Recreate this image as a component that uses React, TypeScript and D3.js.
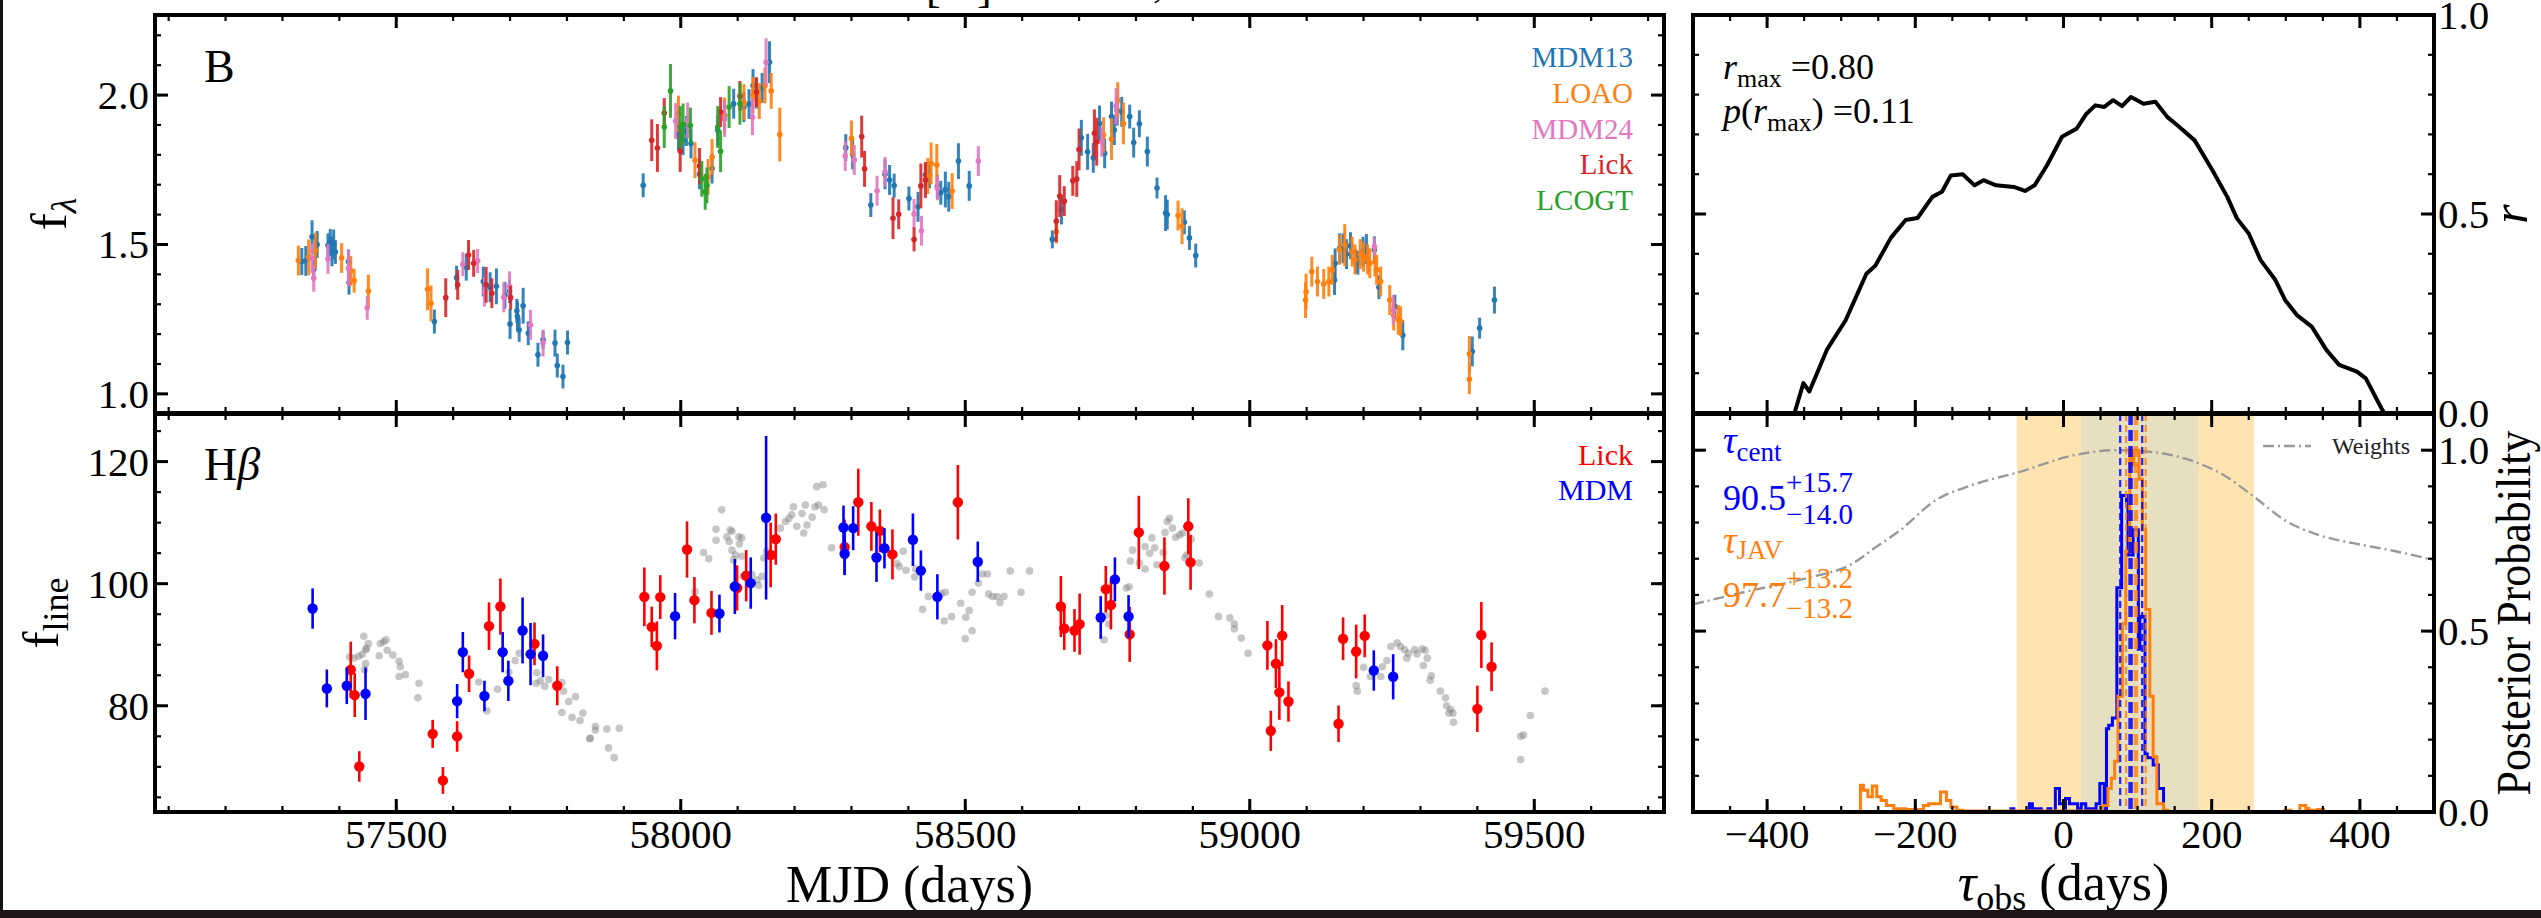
import React from "react";
import * as d3 from "d3";

const W = 2541;
const H = 918;
const FONT = "\"Liberation Serif\", \"DejaVu Serif\", \"Noto Serif\", serif";

// ---- B-band continuum light curves: [MJD, flux, error] ----
const mdm13 = [
  [57334, 1.443, 0.045], [57341, 1.445, 0.05], [57352, 1.526, 0.055], [57355, 1.417, 0.04], [57358, 1.476, 0.05],
  [57361, 1.5, 0.045], [57380, 1.497, 0.04], [57384, 1.507, 0.045], [57387, 1.477, 0.05], [57390, 1.5, 0.05],
  [57393, 1.475, 0.04], [57416, 1.443, 0.04], [57417, 1.372, 0.04],
  [57567, 1.242, 0.04], [57606, 1.389, 0.04], [57623, 1.424, 0.045], [57653, 1.376, 0.05], [57665, 1.357, 0.05],
  [57676, 1.36, 0.06], [57691, 1.33, 0.045], [57699, 1.344, 0.04], [57700, 1.234, 0.05], [57712, 1.278, 0.04],
  [57713, 1.259, 0.05], [57716, 1.214, 0.04], [57723, 1.295, 0.06], [57732, 1.203, 0.04], [57749, 1.131, 0.04],
  [57758, 1.181, 0.03], [57779, 1.17, 0.045], [57783, 1.095, 0.04], [57793, 1.058, 0.04], [57801, 1.172, 0.04],
  [57934, 1.698, 0.04], [57996, 1.866, 0.05], [58004, 1.849, 0.05], [58010, 1.88, 0.05], [58018, 1.838, 0.05],
  [58033, 1.735, 0.05], [58055, 1.754, 0.05], [58065, 1.882, 0.05], [58077, 1.932, 0.05], [58093, 1.971, 0.05],
  [58111, 1.96, 0.05], [58120, 1.97, 0.05], [58127, 2.032, 0.055], [58133, 2.005, 0.05], [58143, 2.024, 0.05],
  [58156, 2.11, 0.07],
  [58290, 1.824, 0.045], [58302, 1.801, 0.05], [58334, 1.632, 0.04], [58359, 1.735, 0.05], [58367, 1.716, 0.05],
  [58375, 1.697, 0.04], [58401, 1.654, 0.04], [58417, 1.626, 0.05], [58430, 1.733, 0.04], [58437, 1.733, 0.045],
  [58451, 1.693, 0.04], [58457, 1.673, 0.04], [58465, 1.684, 0.06], [58471, 1.66, 0.05], [58488, 1.779, 0.06],
  [58507, 1.696, 0.05],
  [58653, 1.517, 0.03], [58669, 1.617, 0.05], [58704, 1.857, 0.06], [58715, 1.81, 0.06], [58725, 1.79, 0.05],
  [58736, 1.905, 0.06], [58745, 1.805, 0.05], [58757, 1.928, 0.05], [58762, 1.883, 0.05], [58767, 1.948, 0.05],
  [58775, 1.944, 0.05], [58789, 1.928, 0.04], [58796, 1.841, 0.05], [58806, 1.904, 0.045], [58820, 1.811, 0.05],
  [58837, 1.689, 0.035], [58852, 1.605, 0.06], [58855, 1.6, 0.05], [58885, 1.574, 0.04], [58894, 1.522, 0.04],
  [58905, 1.463, 0.04],
  [59149, 1.381, 0.05], [59150, 1.437, 0.05], [59158, 1.487, 0.05], [59164, 1.487, 0.05], [59170, 1.468, 0.05],
  [59177, 1.496, 0.045], [59186, 1.443, 0.04], [59190, 1.439, 0.04], [59199, 1.476, 0.05], [59205, 1.485, 0.05],
  [59219, 1.482, 0.045], [59227, 1.357, 0.04], [59255, 1.292, 0.04], [59269, 1.196, 0.05],
  [59391, 1.142, 0.05], [59404, 1.22, 0.035], [59430, 1.314, 0.045],
];
const loao = [
  [57328, 1.446, 0.05], [57346, 1.457, 0.06], [57358, 1.479, 0.06], [57404, 1.455, 0.05], [57420, 1.412, 0.05],
  [57426, 1.379, 0.04], [57451, 1.344, 0.055], [57555, 1.35, 0.07], [57561, 1.303, 0.06],
  [57996, 1.938, 0.06], [58025, 1.782, 0.06], [58048, 1.726, 0.06], [58055, 1.793, 0.06], [58077, 1.932, 0.06],
  [58111, 1.976, 0.06], [58127, 2.0, 0.06], [58138, 1.98, 0.06], [58148, 2.032, 0.06], [58159, 2.014, 0.06],
  [58174, 1.868, 0.09],
  [58300, 1.855, 0.06], [58434, 1.729, 0.06], [58440, 1.771, 0.07], [58450, 1.766, 0.07], [58477, 1.679, 0.06],
  [58660, 1.543, 0.04], [58743, 1.866, 0.06], [58757, 1.853, 0.07], [58768, 1.983, 0.06], [58778, 1.905, 0.07],
  [58874, 1.597, 0.05], [58881, 1.561, 0.06],
  [59098, 1.314, 0.06], [59099, 1.342, 0.06], [59109, 1.409, 0.05], [59119, 1.376, 0.05], [59130, 1.368, 0.05],
  [59139, 1.376, 0.05], [59145, 1.415, 0.05], [59158, 1.482, 0.05], [59167, 1.498, 0.07], [59180, 1.476, 0.05],
  [59185, 1.45, 0.05], [59194, 1.468, 0.05], [59200, 1.459, 0.05], [59207, 1.45, 0.05], [59211, 1.437, 0.05],
  [59220, 1.443, 0.05], [59223, 1.415, 0.05], [59230, 1.376, 0.05], [59246, 1.314, 0.05], [59253, 1.262, 0.05],
  [59261, 1.248, 0.05], [59265, 1.243, 0.05],
  [59386, 1.049, 0.05], [59386, 1.134, 0.06],
];
const mdm24 = [
  [57352, 1.454, 0.05], [57355, 1.387, 0.045], [57380, 1.452, 0.05], [57416, 1.42, 0.06], [57449, 1.288, 0.04],
  [57617, 1.434, 0.04], [57643, 1.445, 0.04], [57655, 1.342, 0.05], [57689, 1.323, 0.05], [57699, 1.36, 0.05],
  [57736, 1.231, 0.05], [57758, 1.17, 0.045],
  [57991, 1.913, 0.06], [58012, 1.915, 0.06], [58077, 1.92, 0.06], [58126, 1.926, 0.06], [58150, 2.11, 0.08],
  [58289, 1.796, 0.05], [58305, 1.783, 0.05], [58345, 1.68, 0.05], [58359, 1.743, 0.05], [58410, 1.602, 0.05],
  [58423, 1.546, 0.05], [58451, 1.688, 0.04], [58523, 1.779, 0.05],
  [58740, 1.844, 0.05], [58765, 1.963, 0.06], [59219, 1.493, 0.03], [59252, 1.281, 0.05],
];
const lickB = [
  [57587, 1.322, 0.065], [57608, 1.365, 0.05], [57627, 1.465, 0.05], [57636, 1.437, 0.045], [57658, 1.365, 0.06],
  [57668, 1.337, 0.05], [57701, 1.322, 0.04],
  [57949, 1.849, 0.07], [57959, 1.823, 0.08], [57971, 1.94, 0.05], [57999, 1.813, 0.07], [58033, 1.763, 0.06],
  [58070, 1.943, 0.05], [58104, 1.997, 0.05], [58133, 2.01, 0.05],
  [58318, 1.861, 0.07], [58323, 1.753, 0.06], [58373, 1.588, 0.07], [58383, 1.601, 0.05], [58410, 1.517, 0.04],
  [58422, 1.696, 0.075], [58430, 1.716, 0.06],
  [58660, 1.578, 0.07], [58666, 1.662, 0.07], [58674, 1.645, 0.05], [58689, 1.713, 0.05], [58696, 1.719, 0.06],
  [58700, 1.818, 0.07], [58727, 1.872, 0.08], [58731, 1.844, 0.08],
];
const lcogt = [
  [57971, 1.893, 0.07], [57982, 2.014, 0.09], [57999, 1.893, 0.07], [58004, 1.902, 0.07], [58017, 1.898, 0.06],
  [58037, 1.72, 0.06], [58043, 1.676, 0.06], [58046, 1.698, 0.06], [58065, 1.893, 0.07], [58070, 1.812, 0.07],
  [58085, 1.96, 0.07], [58104, 1.971, 0.07],
];

// ---- H-beta line light curves: [MJD, flux, error] ----
const lickHb = [
  [57420, 85.9, 4.6], [57427, 81.75, 3.6], [57435, 70.06, 2.5], [57564, 75.4, 2.3], [57582, 67.77, 2.2],
  [57607, 74.98, 2.5], [57628, 85.24, 3], [57663, 93.05, 3.9], [57683, 96.26, 4.6], [57743, 90.15, 3.5],
  [57783, 83.28, 3.2], [57936, 97.85, 4.8], [57949, 92.93, 3.3], [57958, 89.82, 4], [57964, 97.8, 3.6],
  [58011, 105.6, 4.6], [58024, 97.3, 3.8], [58054, 95.22, 3.6], [58099, 99.3, 3.7], [58115, 101.3, 4.2],
  [58158, 104.7, 5.3], [58167, 107.3, 4.2], [58288, 106, 4.5], [58312, 113.35, 5.5], [58335, 109.4, 4],
  [58350, 108.65, 3.5], [58372, 104.8, 4.1], [58487, 113.35, 6.1], [58668, 96.26, 5], [58674, 92.66, 3.5],
  [58692, 92.34, 3.5], [58701, 93.38, 5], [58747, 99.1, 3.8], [58756, 96.5, 4], [58789, 91.7, 4.5],
  [58805, 108.4, 6], [58850, 102.9, 4.7], [58892, 109.4, 4.6], [58896, 103.5, 4.5], [59031, 89.9, 4],
  [59037, 75.9, 3.3], [59046, 86.9, 4], [59052, 82.2, 4.5], [59057, 91.5, 5], [59068, 80.7, 3.3],
  [59156, 77.05, 3], [59164, 90.97, 3.5], [59187, 88.9, 4.4], [59202, 91.46, 3.5], [59400, 79.5, 3.8],
  [59407, 91.6, 5.4], [59425, 86.4, 4],
];
const mdmHb = [
  [57353, 95.93, 3.3], [57378, 82.84, 3.1], [57413, 83.28, 3], [57446, 81.97, 4.3], [57607, 80.77, 2.8],
  [57617, 88.79, 3.3], [57655, 81.6, 2.5], [57687, 88.79, 3.3], [57697, 84.09, 3.3], [57722, 92.34, 5.4],
  [57736, 88.47, 5.1], [57758, 88.19, 3.5], [57990, 94.68, 3.8], [58068, 95.11, 3.1], [58095, 99.54, 4.5],
  [58123, 100.1, 4.2], [58150, 110.8, 13.4], [58286, 109.2, 3.6], [58288, 104.9, 3.5], [58303, 109.1, 3.6],
  [58344, 104.3, 4], [58358, 105.8, 3.3], [58408, 107.2, 4.3], [58422, 102.15, 3.3], [58451, 97.85, 3.7],
  [58522, 103.6, 3.3], [58738, 94.46, 3.5], [58763, 100.7, 3.6], [58787, 94.63, 3.5], [59218, 85.78, 3.3],
  [59252, 84.75, 3.7],
];
// shifted and scaled continuum shown in grey: [MJD, flux]
const shiftedCont = [
  [57418, 88.0], [57425, 87.8], [57434, 88.1], [57440, 88.4], [57443, 91.4], [57446, 89.2], [57448, 89.4],
  [57451, 90.2], [57446, 86.9], [57444, 85.9], [57470, 88.2], [57472, 90.2], [57478, 90.5], [57482, 90.8],
  [57484, 89.1], [57494, 88.3], [57505, 87.3], [57507, 86.4], [57505, 84.8], [57516, 85.1], [57540, 83.7],
  [57538, 81.3], [57645, 83.9], [57678, 82.7], [57659, 79.2], [57698, 85.5], [57709, 87.4], [57716, 88.6],
  [57747, 85.4], [57746, 83.7], [57753, 84.1], [57768, 84.3], [57761, 83.2], [57791, 83.8], [57794, 82.4],
  [57791, 78.9], [57803, 80.7], [57809, 78.1], [57815, 81.5], [57823, 77.6], [57828, 78.8], [57850, 76.6],
  [57850, 76.0], [57841, 74.7], [57870, 76.2], [57892, 76.3], [57873, 73.1], [57883, 71.5], [57840, 74.6],
  [58025, 98.7], [58040, 105.1], [58049, 104.1], [58062, 108.9], [58062, 107.1], [58072, 112.1], [58081, 107.7],
  [58087, 108.8], [58090, 108.6], [58085, 106.9], [58090, 105.5], [58096, 104.7], [58102, 107.7], [58103, 106.5],
  [58107, 107.5], [58107, 104.5], [58093, 103.9], [58110, 101.2], [58125, 101.5], [58137, 99.7], [58134, 100.6],
  [58143, 101.2], [58146, 104.2], [58151, 105.3], [58175, 109.1], [58184, 110.2], [58190, 110.7], [58195, 111.3],
  [58198, 112.6], [58204, 109.4], [58216, 108.3], [58213, 111.5], [58219, 112.9], [58222, 109.6], [58231, 110.9],
  [58236, 112.6], [58239, 115.9], [58242, 112.9],
  [58250, 116.2], [58252, 112.1], [58265, 105.9], [58380, 103.3], [58391, 105.3], [58396, 102.2], [58384, 102.8],
  [58411, 101.1], [58413, 102.4], [58425, 95.8], [58435, 97.9], [58458, 98.4], [58465, 98.6], [58463, 93.9],
  [58476, 94.6], [58492, 96.8], [58501, 94.5], [58507, 95.6], [58512, 92.3], [58500, 91.0], [58512, 98.6],
  [58523, 100.1], [58530, 101.6], [58539, 101.6], [58541, 98.3], [58548, 97.9], [58556, 97.9], [58561, 96.9],
  [58568, 97.9], [58579, 102.1], [58598, 98.6], [58613, 102.1],
  [58747, 94.8], [58752, 93.4], [58744, 90.8], [58788, 99.5], [58783, 99.3], [58790, 103.7], [58794, 105.5],
  [58806, 103.4], [58816, 102.4], [58816, 106.1], [58824, 105.0], [58828, 107.5], [58833, 105.9], [58837, 103.1],
  [58848, 105.1], [58851, 108.4], [58855, 110.2], [58859, 110.7], [58864, 109.1], [58870, 107.6], [58877, 108.0],
  [58882, 108.3], [58889, 104.7], [58897, 107.3], [58911, 103.4], [58886, 104.2], [58929, 98.3], [58945, 94.6],
  [58965, 94.4], [58973, 93.4], [58973, 92.6], [58985, 91.1], [58997, 88.6],
  [59187, 83.3], [59189, 82.4], [59200, 86.3], [59212, 84.8], [59230, 84.8], [59233, 86.4], [59241, 87.4],
  [59248, 89.7], [59259, 90.3], [59265, 89.7], [59272, 89.2], [59276, 87.8], [59279, 88.6], [59290, 89.2],
  [59294, 88.5], [59303, 89.3], [59308, 89.1], [59312, 87.8], [59305, 86.6], [59319, 84.9], [59317, 84.2],
  [59335, 82.4], [59344, 81.3], [59346, 80.0], [59353, 79.4], [59357, 78.8], [59358, 77.3], [59350, 78.8],
  [59493, 78.4], [59519, 82.4], [59476, 75.0], [59481, 75.2], [59476, 71.2],
];

// ---- cross-correlation function ----
const ccfLag = [-363, -351, -343, -319, -294, -278, -266, -254, -233, -213, -197, -177, -164, -152, -136, -120, -108, -91,
  -67, -52, -39, -22, -2, 18, 31, 43, 55, 67, 79, 91, 108, 124, 140, 156, 177, 201, 221, 234, 250, 266, 286, 299, 315,
  335, 355, 372, 396, 408, 429, 433];
const ccfR = [0, 0.075, 0.054, 0.16, 0.233, 0.3, 0.35, 0.37, 0.44, 0.485, 0.49, 0.543, 0.556, 0.597, 0.6, 0.572, 0.585,
  0.572, 0.568, 0.558, 0.572, 0.623, 0.694, 0.715, 0.752, 0.773, 0.769, 0.786, 0.771, 0.794, 0.777, 0.782, 0.744,
  0.719, 0.685, 0.61, 0.543, 0.489, 0.451, 0.384, 0.334, 0.284, 0.246, 0.217, 0.158, 0.121, 0.104, 0.087, 0.012, 0];

// ---- lag posteriors ----
const centEdges = [-71, -67, -46, -42, -37, -30, -21, -17, -11, -5.4, 0, 2.7, 8, 13.5, 19, 24, 30, 44, 49, 55, 58, 61, 66,
  72, 78.5, 85, 87, 94, 101, 103, 110, 113, 121, 128, 135];
const centHeights = [0.009, 0, 0.023, 0.009, 0.009, 0, 0.009, 0, 0.065, 0.023, 0.009, 0.037, 0.023, 0.023, 0.009, 0.023,
  0.009, 0.023, 0.079, 0.009, 0.23, 0.24, 0.26, 0.62, 0.875, 0.845, 0.71, 0.78, 0.45, 0.54, 0.16, 0.15, 0.13, 0.065];
const javEdges = [-274, -270, -264, -258, -252, -246, -239, -229, -213, -189, -182, -166, -158, -152, -144, -136, 53, 60,
  64.5, 69, 73.6, 79.4, 84, 89.4, 93, 95, 102, 106.5, 111, 116.5, 121, 126, 135, 141, 299, 307, 319, 327, 331, 339,
  343, 351];
const javHeights = [0.074, 0.06, 0.042, 0.072, 0.042, 0.032, 0.018, 0.009, 0.007, 0.018, 0.023, 0.055, 0.032, 0.014,
  0.005, 0.003, 0.018, 0.065, 0.093, 0.14, 0.32, 0.52, 0.72, 1.0, 0.96, 1.0, 0.92, 0.78, 0.56, 0.32, 0.153, 0.023,
  0.005, 0, 0.005, 0, 0.018, 0.01, 0.005, 0, 0.007];
const weightLag = [-500, -424, -343, -286, -254, -221, -173, -124, -59, 14, 71, 120, 177, 217, 258, 299, 347, 396, 445, 500];
const weightVal = [0.574, 0.611, 0.648, 0.685, 0.731, 0.778, 0.861, 0.903, 0.94, 0.986, 1.0, 0.995, 0.968, 0.93, 0.87,
  0.806, 0.764, 0.741, 0.722, 0.696];
const tauCent = [90.5, 14.0, 15.7];
const tauJav = [97.7, 13.2, 13.2];
const outerSpan = [-63, 257];
const innerSpan = [24, 182];

// ---- ticks ----
const mjdTicks = [57500, 58000, 58500, 59000, 59500];
const mjdMinor = d3.range(57100, 59701, 100);
const bTicks = [1.0, 1.5, 2.0];
const bMinor = d3.range(1.0, 2.25, 0.1);
const hbTicks = [80, 100, 120];
const hbMinor = d3.range(65, 126, 5);
const lagTicks = [-400, -200, 0, 200, 400];
const lagMinor = d3.range(-450, 451, 50);
const rTicks = [0, 0.5, 1.0];
const rMinor = d3.range(0, 1.01, 0.1);
const pMinor = d3.range(0, 1.11, 0.1);

const bSets = [
  { name: "MDM13", color: "#1f77b4", data: mdm13 },
  { name: "LOAO", color: "#ff7f0e", data: loao },
  { name: "MDM24", color: "#e377c2", data: mdm24 },
  { name: "Lick", color: "#d62728", data: lickB },
  { name: "LCOGT", color: "#2ca02c", data: lcogt },
];

// ---- layout ----
const L = { l: 155, r: 1664 };
const R = { l: 1693, r: 2434 };
const TOP = { t: 15, b: 413 };
const BOT = { t: 414, b: 812 };

const xMjd = d3.scaleLinear().domain([57076, 59728]).range([L.l, L.r]);
const yB = d3.scaleLinear().domain([0.936, 2.268]).range([TOP.b, TOP.t]);
const yHb = d3.scaleLinear().domain([62.6, 127.8]).range([BOT.b, BOT.t]);
const xLag = d3.scaleLinear().domain([-500, 500]).range([R.l, R.r]);
const yR = d3.scaleLinear().domain([0, 1]).range([TOP.b, TOP.t]);
const yP = d3.scaleLinear().domain([0, 1.1]).range([BOT.b, BOT.t]);

function Frame({ x, y, box, xMajor, xMinor, yMajor, yMinor }) {
  const { l, r, t, b } = box;
  const out = [];
  const tk = (k, x1, y1, x2, y2, w) => (
    <line key={k} x1={x1} y1={y1} x2={x2} y2={y2} stroke="#000" strokeWidth={w} />
  );
  xMinor.forEach((v, i) => {
    const p = x(v);
    out.push(tk(`xmb${i}`, p, b, p, b - 6, 2.2), tk(`xmt${i}`, p, t, p, t + 6, 2.2));
  });
  xMajor.forEach((v, i) => {
    const p = x(v);
    out.push(tk(`xb${i}`, p, b, p, b - 13, 3), tk(`xt${i}`, p, t, p, t + 13, 3));
  });
  yMinor.forEach((v, i) => {
    const p = y(v);
    out.push(tk(`yml${i}`, l, p, l + 6, p, 2.2), tk(`ymr${i}`, r, p, r - 6, p, 2.2));
  });
  yMajor.forEach((v, i) => {
    const p = y(v);
    out.push(tk(`yl${i}`, l, p, l + 13, p, 3), tk(`yr${i}`, r, p, r - 13, p, 3));
  });
  return (
    <g>
      {out}
      <rect x={l} y={t} width={r - l} height={b - t} fill="none" stroke="#000" strokeWidth={4} />
    </g>
  );
}

function stepPath(edges, heights, x, y) {
  const pts = [[edges[0], 0]];
  heights.forEach((h, i) => {
    pts.push([edges[i], h], [edges[i + 1], h]);
  });
  pts.push([edges[edges.length - 1], 0]);
  return d3.line().x((d) => x(d[0])).y((d) => y(d[1]))(pts);
}

export default function App() {
  const f1 = d3.format(".1f");
  const ccfLine = d3.line().x((d) => xLag(d[0])).y((d) => yR(d[1]))(ccfLag.map((v, i) => [v, ccfR[i]]));
  const wLine = d3.line().curve(d3.curveMonotoneX).x((d) => xLag(d[0])).y((d) => yP(d[1]))(
    weightLag.map((v, i) => [v, weightVal[i]])
  );
  const lagLines = (tau, color, op) => {
    const [c, lo, hi] = tau;
    return [
      { v: c - lo, w: 2.2, dash: "7 4" },
      { v: c + hi, w: 2.2, dash: "7 4" },
      { v: c, w: 4.5, dash: "11 5" },
    ].map((d, i) => (
      <line key={color + i} x1={xLag(d.v)} x2={xLag(d.v)} y1={BOT.t} y2={BOT.b} stroke={color}
        strokeWidth={d.w} strokeDasharray={d.dash} opacity={op} />
    ));
  };

  return (
    <div style={{ position: "absolute", left: 0, top: 0 }}>
      <svg width={W} height={H} style={{ display: "block", fontFamily: FONT }}>
        <style>{`text, tspan { font-family: ${FONT}; }`}</style>
        <defs>
          <clipPath id="cTL"><rect x={L.l} y={TOP.t} width={L.r - L.l} height={TOP.b - TOP.t} /></clipPath>
          <clipPath id="cBL"><rect x={L.l} y={BOT.t} width={L.r - L.l} height={BOT.b - BOT.t} /></clipPath>
          <clipPath id="cTR"><rect x={R.l} y={TOP.t} width={R.r - R.l} height={TOP.b - TOP.t} /></clipPath>
          <clipPath id="cBR"><rect x={R.l} y={BOT.t} width={R.r - R.l} height={BOT.b - BOT.t} /></clipPath>
        </defs>
        <rect width={W} height={H} fill="#fff" />

        {/* cropped caption remnants */}
        <text x={926} y={2} fontSize={44}>[</text>
        <text x={977} y={2} fontSize={44}>]</text>
        <text x={1153} y={-3} fontSize={40}>,</text>

        {/* ===== B band ===== */}
        <g clipPath="url(#cTL)">
          {bSets.map((s) => (
            <g key={s.name}>
              {s.data.map((d, i) => (
                <g key={i}>
                  <line x1={xMjd(d[0])} x2={xMjd(d[0])} y1={yB(d[1] - d[2])} y2={yB(d[1] + d[2])}
                    stroke={s.color} strokeWidth={3} opacity={0.9} />
                  <circle cx={xMjd(d[0])} cy={yB(d[1])} r={2.8} fill={s.color} />
                </g>
              ))}
            </g>
          ))}
        </g>
        <Frame x={xMjd} y={yB} box={{ l: L.l, r: L.r, t: TOP.t, b: TOP.b }} xMajor={mjdTicks} xMinor={mjdMinor}
          yMajor={bTicks} yMinor={bMinor} />
        {bTicks.map((v) => (
          <text key={v} x={L.l - 6} y={yB(v) + 14} fontSize={41} textAnchor="end">{f1(v)}</text>
        ))}
        <text x={204} y={82} fontSize={46}>B</text>
        {bSets.map((s, i) => (
          <text key={s.name} x={1633} y={67 + i * 35.8} fontSize={29} textAnchor="end" fill={s.color}>{s.name}</text>
        ))}
        <text transform="translate(66,214) rotate(-90)" fontSize={51} textAnchor="middle">
          f<tspan fontSize={36} dy={10} fontStyle="italic">λ</tspan>
        </text>

        {/* ===== H beta ===== */}
        <g clipPath="url(#cBL)">
          {shiftedCont.map((d, i) => (
            <circle key={i} cx={xMjd(d[0])} cy={yHb(d[1])} r={3.8} fill="#808080" opacity={0.45} />
          ))}
          {[{ data: lickHb, color: "#ff0000" }, { data: mdmHb, color: "#0000ff" }].map((s) => (
            <g key={s.color}>
              {s.data.map((d, i) => (
                <g key={i}>
                  <line x1={xMjd(d[0])} x2={xMjd(d[0])} y1={yHb(d[1] - d[2])} y2={yHb(d[1] + d[2])}
                    stroke={s.color} strokeWidth={2.6} />
                  <circle cx={xMjd(d[0])} cy={yHb(d[1])} r={5.2} fill={s.color} />
                </g>
              ))}
            </g>
          ))}
        </g>
        <Frame x={xMjd} y={yHb} box={{ l: L.l, r: L.r, t: BOT.t, b: BOT.b }} xMajor={mjdTicks} xMinor={mjdMinor}
          yMajor={hbTicks} yMinor={hbMinor} />
        {hbTicks.map((v) => (
          <text key={v} x={L.l - 6} y={yHb(v) + 14} fontSize={41} textAnchor="end">{v}</text>
        ))}
        {mjdTicks.map((v) => (
          <text key={v} x={xMjd(v)} y={848} fontSize={41} textAnchor="middle">{v}</text>
        ))}
        <text x={204} y={480} fontSize={46}>H<tspan fontStyle="italic">β</tspan></text>
        <text x={1633} y={465} fontSize={30} textAnchor="end" fill="#ff0000">Lick</text>
        <text x={1633} y={500} fontSize={30} textAnchor="end" fill="#0000ff">MDM</text>
        <text transform="translate(58,613) rotate(-90)" fontSize={51} textAnchor="middle">
          f<tspan fontSize={36} dy={10}>line</tspan>
        </text>
        <text x={(L.l + L.r) / 2} y={902} fontSize={52} textAnchor="middle">MJD (days)</text>

        {/* ===== CCF ===== */}
        <g clipPath="url(#cTR)">
          <path d={ccfLine} fill="none" stroke="#000" strokeWidth={4} strokeLinejoin="round" />
        </g>
        <Frame x={xLag} y={yR} box={{ l: R.l, r: R.r, t: TOP.t, b: TOP.b }} xMajor={lagTicks} xMinor={lagMinor}
          yMajor={rTicks} yMinor={rMinor} />
        {rTicks.map((v) => (
          <text key={v} x={R.r + 4} y={yR(v) + 14} fontSize={41}>{f1(v)}</text>
        ))}
        <text transform="translate(2527,214) rotate(-90)" fontSize={50} textAnchor="middle" fontStyle="italic">r</text>
        <text x={1723} y={79} fontSize={36}>
          <tspan fontStyle="italic">r</tspan>
          <tspan fontSize={26} dy={8}>max</tspan>
          <tspan dy={-8}>{" =0.80"}</tspan>
        </text>
        <text x={1723} y={123} fontSize={36}>
          <tspan fontStyle="italic">p</tspan>
          <tspan>(</tspan>
          <tspan fontStyle="italic">r</tspan>
          <tspan fontSize={26} dy={8}>max</tspan>
          <tspan dy={-8}>{") =0.11"}</tspan>
        </text>

        {/* ===== lag posteriors ===== */}
        <g clipPath="url(#cBR)">
          <rect x={xLag(outerSpan[0])} y={BOT.t} width={xLag(outerSpan[1]) - xLag(outerSpan[0])} height={BOT.b - BOT.t}
            fill="#ffa500" opacity={0.3} />
          <rect x={xLag(innerSpan[0])} y={BOT.t} width={xLag(innerSpan[1]) - xLag(innerSpan[0])} height={BOT.b - BOT.t}
            fill="#add8e6" opacity={0.3} />
          <path d={wLine} fill="none" stroke="#999" strokeWidth={2.4} strokeDasharray="11 4 2 4" />
          <path d={stepPath(centEdges, centHeights, xLag, yP)} fill="none" stroke="#0000ff" strokeWidth={3} />
          <path d={stepPath(javEdges, javHeights, xLag, yP)} fill="none" stroke="#ff7f0e" strokeWidth={3} />
          {lagLines(tauCent, "#0000ff", 0.85)}
          {lagLines(tauJav, "#ff7f0e", 0.8)}
        </g>
        <Frame x={xLag} y={yP} box={{ l: R.l, r: R.r, t: BOT.t, b: BOT.b }} xMajor={lagTicks} xMinor={lagMinor}
          yMajor={rTicks} yMinor={pMinor} />
        {rTicks.map((v) => (
          <text key={v} x={R.r + 4} y={yP(v) + 14} fontSize={41}>{f1(v)}</text>
        ))}
        {lagTicks.map((v) => (
          <text key={v} x={xLag(v)} y={848} fontSize={41} textAnchor="middle">{d3.format("")(v)}</text>
        ))}
        <text transform="translate(2530,613) rotate(-90)" fontSize={48} textAnchor="middle" textLength={365}
          lengthAdjust="spacingAndGlyphs">Posterior Probability</text>
        <text x={(R.l + R.r) / 2} y={900} fontSize={52} textAnchor="middle">
          <tspan fontStyle="italic">τ</tspan>
          <tspan fontSize={36} dy={10}>obs</tspan>
          <tspan dy={-10}>{" (days)"}</tspan>
        </text>
        <line x1={2263} x2={2311} y1={446} y2={446} stroke="#999" strokeWidth={2.4} strokeDasharray="11 4 2 4" />
        <text x={2332} y={454} fontSize={24} fill="#222">Weights</text>

        <g fill="#0000ff">
          <text x={1723} y={453} fontSize={38}>
            <tspan fontStyle="italic">τ</tspan>
            <tspan fontSize={27} dy={8}>cent</tspan>
          </text>
          <text x={1723} y={510} fontSize={36}>{tauCent[0].toFixed(1)}</text>
          <text x={1786} y={492} fontSize={29}>+{tauCent[2].toFixed(1)}</text>
          <text x={1786} y={524} fontSize={29}>−{tauCent[1].toFixed(1)}</text>
        </g>
        <g fill="#ff7f0e">
          <text x={1723} y={553} fontSize={38}>
            <tspan fontStyle="italic">τ</tspan>
            <tspan fontSize={27} dy={6}>JAV</tspan>
          </text>
          <text x={1723} y={607} fontSize={36}>{tauJav[0].toFixed(1)}</text>
          <text x={1786} y={588} fontSize={29}>+{tauJav[2].toFixed(1)}</text>
          <text x={1786} y={618} fontSize={29}>−{tauJav[1].toFixed(1)}</text>
        </g>

        {/* screenshot edges */}
        <rect x={0} y={0} width={3} height={H} fill="#111" />
        <rect x={0} y={910} width={W} height={8} fill="#1e1616" />
      </svg>
    </div>
  );
}
